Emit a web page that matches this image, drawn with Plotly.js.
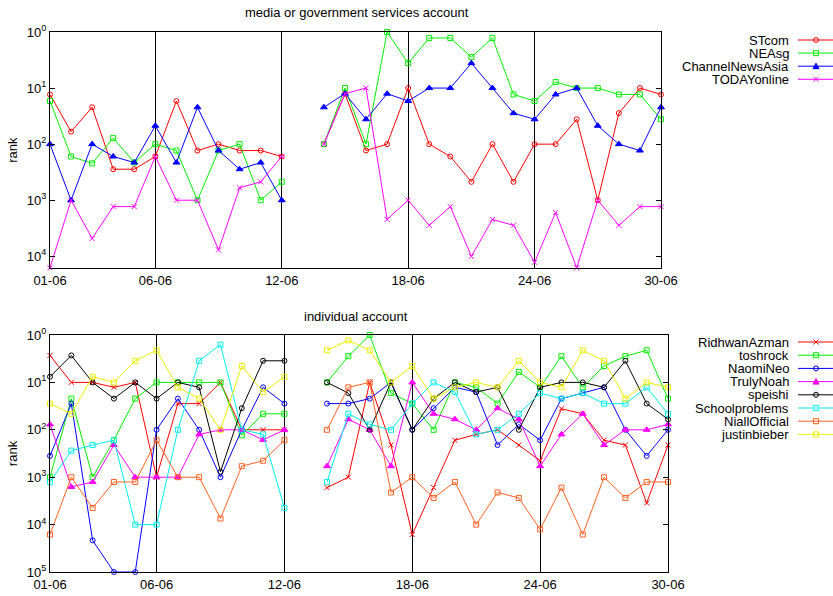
<!DOCTYPE html>
<html>
<head>
<meta charset="utf-8">
<script src="https://cdn.plot.ly/plotly-3.0.1.min.js"></script>
<style>html,body{margin:0;padding:0;background:#fff;}#chart{width:833px;height:596px;}</style>
</head>
<body>
<div id="chart"></div>
<script>
// ---------- data ----------
const days = [1,2,3,4,5,6,7,8,9,10,11,12,13,14,15,16,17,18,19,20,21,22,23,24,25,26,27,28,29,30];
const tickDays = [1,6,12,18,24,30];
const tickLabels = ['01-06','06-06','12-06','18-06','24-06','30-06'];
const yTickVals = [1,10,100,1000,10000,100000];
const yTickText = ['10<sup>0</sup>','10<sup>1</sup>','10<sup>2</sup>','10<sup>3</sup>','10<sup>4</sup>','10<sup>5</sup>'];

const topTitle = 'media or government services account';
const bottomTitle = 'individual account';
const yLabel = 'rank';

// media / government accounts
const STcom          = [13,60,22,280,280,166,17,130,100,130,130,166,null,100,12.6,130,100,10,100,166,470,100,470,100,100,36,1000,28,10,13];
const NEAsg          = [17,166,220,78,213,100,130,1000,130,100,1000,470,null,100,10,100,1,3.6,1.28,1.28,2.8,1.28,13,17,7.8,10,10,13,13,36];
const ChannelNewsAsia= [100,1000,100,166,213,47,213,22,130,280,213,1000,null,22,12.6,36,12.6,17,10,10,3.6,10,28,36,13,10,47,100,130,22];
const TODAYonline    = [16000,1000,4800,1300,1300,166,1000,1000,7700,600,470,166,null,100,12.6,10,2200,1000,2800,1300,10000,2200,2800,12800,1660,16000,1000,2800,1300,1300];

// individual accounts
const RidhwanAzman   = [2.7,10,10,12.7,10,1000,28,28,10,100,100,100,null,1660,1000,10,210,16200,1660,166,125,100,210,450,36,46,166,210,3500,210];
const toshrock       = [1000,22,1000,166,22,10,10,10,10,130,46,46,null,10,2.8,1,16.8,28,100,10,12.7,28,6,12.7,2.8,12.7,4.5,2.8,2.1,22];
const NaomiNeo       = [355,28,21500,100000,100000,100,22,100,1000,100,12.7,28,null,28,28,22,10,100,35,12.7,16,210,77,166,22,16.8,12.7,100,355,100];
const TrulyNoah      = [77,1600,1260,210,1000,1000,1000,125,100,100,163,100,null,585,60,100,585,10,46,60,100,35,60,585,125,46,210,100,100,77];
const speishi        = [7.6,2.7,10,22,10,22,10,12.7,770,35,3.5,3.5,null,10,16.8,100,10,100,22,10,16,12.7,100,12.7,10,10,12.7,3.5,28,60];
const Schoolproblems = [1260,275,210,166,10000,10000,100,3.5,1.6,100,125,4450,null,1260,46,77,100,28,10,16,125,100,46,16.8,22,16.8,28,28,12.7,46];
const NiallOfficial  = [16200,1000,4450,1260,1260,166,1000,1000,7450,585,450,166,null,100,12.7,10,2100,1000,2740,1260,10000,2100,2740,12600,1660,16200,1000,2740,1260,1260];
const justinbieber   = [28,46,7.6,10,3.5,2.1,12.7,22,100,4.5,16,7.6,null,2.1,1.3,2.1,10,4.5,22,12.7,10,12.7,3.5,10,12.7,2.1,3.5,22,10,12.7];

const topSeries = [
  {name:'STcom', y:STcom, color:'#ff0000', sym:'circle'},
  {name:'NEAsg', y:NEAsg, color:'#00ee00', sym:'square'},
  {name:'ChannelNewsAsia', y:ChannelNewsAsia, color:'#0000ff', sym:'triangle'},
  {name:'TODAYonline', y:TODAYonline, color:'#ff00ff', sym:'x'}
];
const bottomSeries = [
  {name:'RidhwanAzman', y:RidhwanAzman, color:'#ff0000', sym:'x'},
  {name:'toshrock', y:toshrock, color:'#00ee00', sym:'square'},
  {name:'NaomiNeo', y:NaomiNeo, color:'#0000ff', sym:'circle'},
  {name:'TrulyNoah', y:TrulyNoah, color:'#ff00ff', sym:'triangle'},
  {name:'speishi', y:speishi, color:'#000000', sym:'circle'},
  {name:'Schoolproblems', y:Schoolproblems, color:'#00eeee', sym:'square'},
  {name:'NiallOfficial', y:NiallOfficial, color:'#ff6020', sym:'square'},
  {name:'justinbieber', y:justinbieber, color:'#eeee00', sym:'square'}
];

// ---------- layout geometry ----------
const W = 833, H = 596;
const M = {l:50, r:165, t:32, b:24};
const PW = W - M.l - M.r, PH = H - M.t - M.b;
const px = v => (v - M.l) / PW;
const py = v => 1 - (v - M.t) / PH;

const FONT = 'Liberation Sans, Arial, Helvetica, sans-serif';

const symMap = {circle:'circle-open', square:'square-open', triangle:'triangle-up', x:'x-thin-open'};

function makeTrace(s, xa, ya) {
  return {
    x: days, y: s.y, xaxis: xa, yaxis: ya, name: s.name,
    type: 'scatter', mode: 'lines+markers', connectgaps: false, cliponaxis: false,
    showlegend: false,
    line: {color: s.color, width: 1},
    marker: {symbol: symMap[s.sym], size: s.sym==='triangle'?6:5, color: s.color,
             line: {color: s.color, width: 1}}
  };
}

const traces = [];
topSeries.forEach(s => traces.push(makeTrace(s, 'x', 'y')));
bottomSeries.forEach(s => traces.push(makeTrace(s, 'x2', 'y2')));

function xAxis(domainEnd, anchor) {
  return {
    domain: [0, domainEnd], anchor: anchor, range: [1, 30],
    tickmode: 'array', tickvals: tickDays, ticktext: tickLabels,
    showgrid: true, gridcolor: '#000', gridwidth: 1,
    showline: true, mirror: true, linecolor: '#000', linewidth: 1,
    zeroline: false, ticks: '', tickfont: {family: FONT, size: 13, color: '#000'}
  };
}
function yAxis(domain, anchor, top) {
  return {
    domain: domain, anchor: anchor, type: 'log', range: [top, 0],
    tickmode: 'array', tickvals: yTickVals, ticktext: yTickText,
    ticks: 'inside', ticklen: 5, tickcolor: '#000',
    showline: true, mirror: 'ticks', linecolor: '#000', linewidth: 1,
    showgrid: false, zeroline: false,
    tickfont: {family: FONT, size: 13, color: '#000'},
    title: {text: yLabel, font: {family: FONT, size: 13, color: '#000'}, standoff: 6}
  };
}

const shapes = [];
const annotations = [
  {text: topTitle, xref: 'paper', yref: 'paper', x: px(357), y: py(12), xanchor: 'center', yanchor: 'middle',
   showarrow: false, font: {family: FONT, size: 13, color: '#000'}},
  {text: bottomTitle, xref: 'paper', yref: 'paper', x: px(356), y: py(316), xanchor: 'center', yanchor: 'middle',
   showarrow: false, font: {family: FONT, size: 13, color: '#000'}}
];

function legendItem(s, yPix) {
  const yy = py(yPix);
  annotations.push({text: s.name, xref: 'paper', yref: 'paper', x: px(791), y: yy,
    xanchor: 'right', yanchor: 'middle', showarrow: false,
    font: {family: FONT, size: 13, color: '#000'}});
  shapes.push({type: 'line', xref: 'paper', yref: 'paper', x0: px(798), x1: px(834), y0: yy, y1: yy,
    line: {color: s.color, width: 1}});
  const cx = 816, r = 2.5;
  if (s.sym === 'circle') {
    shapes.push({type: 'circle', xref: 'paper', yref: 'paper', x0: px(cx-r), x1: px(cx+r), y0: py(yPix+r), y1: py(yPix-r),
      line: {color: s.color, width: 1}});
  } else if (s.sym === 'square') {
    shapes.push({type: 'rect', xref: 'paper', yref: 'paper', x0: px(cx-r), x1: px(cx+r), y0: py(yPix+r), y1: py(yPix-r),
      line: {color: s.color, width: 1}});
  } else if (s.sym === 'triangle') {
    const p = `M ${px(cx-3)} ${py(yPix+2.5)} L ${px(cx+3)} ${py(yPix+2.5)} L ${px(cx)} ${py(yPix-3)} Z`;
    shapes.push({type: 'path', xref: 'paper', yref: 'paper', path: p, fillcolor: s.color, line: {color: s.color, width: 1}});
  } else {
    const p = `M ${px(cx-r)} ${py(yPix-r)} L ${px(cx+r)} ${py(yPix+r)} M ${px(cx-r)} ${py(yPix+r)} L ${px(cx+r)} ${py(yPix-r)}`;
    shapes.push({type: 'path', xref: 'paper', yref: 'paper', path: p, line: {color: s.color, width: 1}});
  }
}
topSeries.forEach((s, i) => legendItem(s, 40 + i * 13.1));
bottomSeries.forEach((s, i) => legendItem(s, 342 + i * 13.2));

const layout = {
  width: W, height: H, margin: M, paper_bgcolor: '#fff', plot_bgcolor: '#fff',
  showlegend: false,
  font: {family: FONT, size: 13, color: '#000'},
  xaxis: xAxis((661 - M.l) / PW, 'y'),
  yaxis: yAxis([py(268.3), 1], 'x', 4.214),
  xaxis2: xAxis(1, 'y2'),
  yaxis2: yAxis([0, py(335)], 'x2', 5),
  shapes: shapes,
  annotations: annotations
};

Plotly.newPlot('chart', traces, layout, {displayModeBar: false, staticPlot: true});
</script>
</body>
</html>
